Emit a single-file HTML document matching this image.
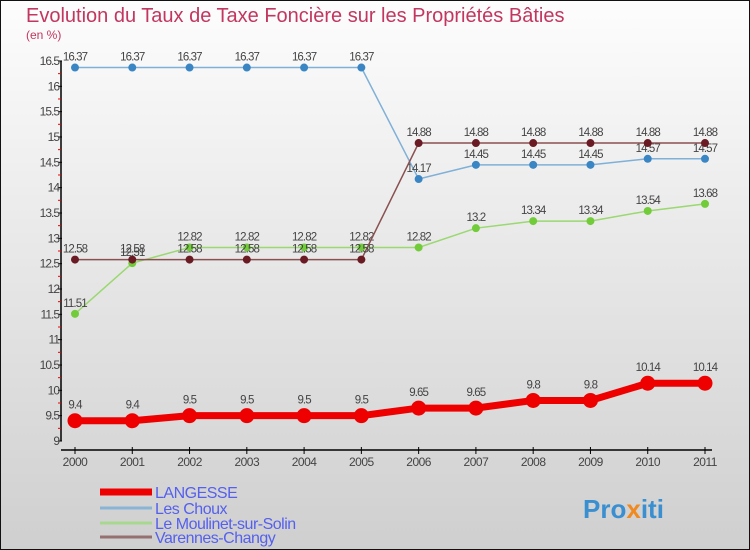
<!DOCTYPE html>
<html><head><meta charset="utf-8"><style>
body{margin:0}
#c{width:750px;height:550px;position:relative;overflow:hidden}
text{font-family:"Liberation Sans",sans-serif}
</style></head><body>
<div id="c">
<svg id="s" width="750" height="550" xmlns="http://www.w3.org/2000/svg">
<defs><linearGradient id="bg" x1="0" y1="0" x2="0" y2="1"><stop offset="0" stop-color="#fdfdfd"/><stop offset="1" stop-color="#cfcfcf"/></linearGradient></defs>
<rect x="0.5" y="0.5" width="749" height="549" fill="url(#bg)" stroke="#111"/>
<text x="26" y="22" font-size="20" fill="#c2365f">Evolution du Taux de Taxe Foncière sur les Propriétés Bâties</text>
<text x="26" y="39" font-size="12" fill="#c2365f">(en %)</text>
<g id="axes"></g><g id="series"></g><g id="legend"></g>
<text x="583" y="518" font-size="26" font-weight="bold" fill="#3a8fd0">Pro<tspan fill="#f08a20">x</tspan>iti</text>
</svg></div>
<script>
const years=[2000,2001,2002,2003,2004,2005,2006,2007,2008,2009,2010,2011];
const langesse=[9.4,9.4,9.5,9.5,9.5,9.5,9.65,9.65,9.8,9.8,10.14,10.14];
const choux=[16.37,16.37,16.37,16.37,16.37,16.37,14.17,14.45,14.45,14.45,14.57,14.57];
const moulinet=[11.51,12.51,12.82,12.82,12.82,12.82,12.82,13.2,13.34,13.34,13.54,13.68];
const varennes=[12.58,12.58,12.58,12.58,12.58,12.58,14.88,14.88,14.88,14.88,14.88,14.88];
const yTicks=[9,9.5,10,10.5,11,11.5,12,12.5,13,13.5,14,14.5,15,15.5,16,16.5];
const NS="http://www.w3.org/2000/svg";
const xS=i=>75+i*(630/11);
const yS=v=>441-(v-9)*50.67;
function mk(t,a,p){const e=document.createElementNS(NS,t);for(const k in a)e.setAttribute(k,a[k]);p.appendChild(e);return e;}
const ax=document.getElementById('axes');
let yl=mk('line',{x1:61,y1:yS(16.5),x2:61,y2:yS(9),stroke:'#000','stroke-width':1.5},ax);


yTicks.forEach((v,i)=>{
 mk('line',{x1:58,y1:yS(v),x2:62,y2:yS(v),stroke:'#000'},ax);
 if(i<yTicks.length-1)mk('line',{x1:58,y1:yS(v+0.25),x2:61,y2:yS(v+0.25),stroke:'#e00'},ax);
 const t=mk('text',{x:59,y:yS(v)+4,'font-size':12,fill:'#444','text-anchor':'end','letter-spacing':'-1'},ax);
 t.textContent=String(v);
 
 
});
let xl=mk('line',{x1:61,y1:450,x2:712,y2:450,stroke:'#000','stroke-width':1.5},ax);


years.forEach((y,i)=>{
 mk('line',{x1:xS(i),y1:447,x2:xS(i),y2:454,stroke:'#000'},ax);
 const t=mk('text',{x:xS(i),y:466,'font-size':12,fill:'#444','text-anchor':'middle','letter-spacing':'-0.5'},ax);
 t.textContent=String(y);
 
 
});
const sg=document.getElementById('series');
function series(vals,name,col,dot,lw,r,lab){
 const g=mk('g',{},sg);
 
 
 mk('polyline',{points:vals.map((v,i)=>xS(i)+','+yS(v)).join(' '),fill:'none',stroke:col,'stroke-width':lw},g);
 vals.forEach((v,i)=>{
  const c=mk('circle',{cx:xS(i),cy:yS(v),r:r,fill:dot},g);
  
  
  const t=mk('text',{x:xS(i),y:yS(v)-lab,'font-size':11.5,fill:'#444','text-anchor':'middle','letter-spacing':'-0.9'},g);
  t.textContent=String(v);
  
  
 });
}
series(choux,'les-choux','#7fb0d8','#3a86c4',1.5,4,7);
series(moulinet,'le-moulinet','#9ad870','#72cc3a',1.5,4,7);
series(varennes,'varennes','#8a5050','#6a1a22',1.5,4,7);
series(langesse,'langesse','#ee0000','#ee0000',7,7.5,12);
const lg=document.getElementById('legend');
const lnames=['LANGESSE','Les Choux','Le Moulinet-sur-Solin','Varennes-Changy'];
const lcols=['#ee0000','#8ab4d4','#a8d890','#957070'];
const lw=[7,3,3,3];
const ly=[492,508,523,537];
lnames.forEach((n,i)=>{
 const l=mk('line',{x1:100,y1:ly[i],x2:152,y2:ly[i],stroke:lcols[i],'stroke-width':lw[i]},lg);
 
 
 const t=mk('text',{x:155,y:ly[i]+6,'font-size':16,fill:'#5560ee','letter-spacing':'-0.5'},lg);
 t.textContent=n;
 
 
});
</script>
</body></html>
